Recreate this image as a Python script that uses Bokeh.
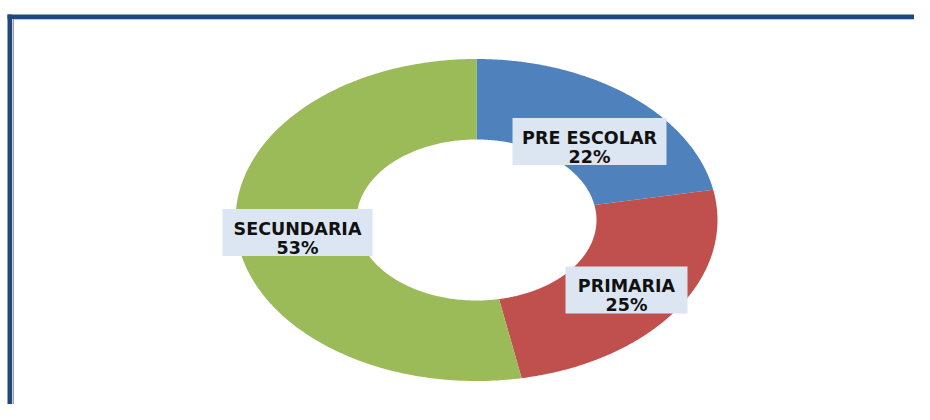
import numpy as np
from bokeh.plotting import figure
from bokeh.models import Range1d, ColumnDataSource
from bokeh.core.properties import value
from bokeh.embed import file_html
from bokeh.resources import INLINE

# ---- data ----
categories = ["PRE ESCOLAR", "PRIMARIA", "SECUNDARIA"]
shares = [22, 25, 53]
colors = ["#4F81BD", "#C0504D", "#9BBB59"]

# ---- layout (pixel coordinates) ----
CX, CY = 476, 219.5
RX_OUT, RY_OUT = 241, 161
RX_IN, RY_IN = 120, 80.5
label_centers = [(589, 141), (626, 289.5), (297, 232)]
label_widths = [154, 122, 150]
label_height = 47

p = figure(width=914, height=404, output_backend="svg", toolbar_location=None,
           x_range=Range1d(0, 914), y_range=Range1d(404, 0),
           min_border=0, outline_line_color=None, background_fill_color="white")
p.axis.visible = False
p.grid.visible = False

# frame
p.quad(left=[7], right=[930], top=[14], bottom=[18.5], fill_color="#1F497D", line_color=None)
p.quad(left=[7], right=[11.5], top=[14], bottom=[420], fill_color="#1F497D", line_color=None)
p.quad(left=[12], right=[13.5], top=[18.5], bottom=[420], fill_color="#A0A0A0", line_color=None)
p.quad(left=[13.5], right=[930], top=[18.5], bottom=[19.5], fill_color="#C8C8C8", line_color=None)

# donut wedges (elliptical)
total = float(sum(shares))
fracs = np.cumsum([0] + shares) / total
xs, ys = [], []
for i in range(len(shares)):
    t = np.linspace(fracs[i], fracs[i + 1], 200) * 2 * np.pi
    xo = CX + RX_OUT * np.sin(t)
    yo = CY - RY_OUT * np.cos(t)
    xi = CX + RX_IN * np.sin(t[::-1])
    yi = CY - RY_IN * np.cos(t[::-1])
    xs.append(list(np.concatenate([xo, xi])))
    ys.append(list(np.concatenate([yo, yi])))
p.patches(xs=xs, ys=ys, fill_color=colors, line_color=None)

# labels
src = ColumnDataSource(dict(
    x=[c[0] for c in label_centers],
    y=[c[1] for c in label_centers],
    w=label_widths,
    name=categories,
    pct=[f"{v}%" for v in shares],
))
p.rect(x="x", y="y", width="w", height=label_height, source=src,
       fill_color="#DCE6F2", line_color=None)
p.text(x="x", y="y", text="name", source=src, y_offset=-4,
       text_font=value("DejaVu Sans"), text_font_style="bold", text_font_size="17.5px",
       text_align="center", text_baseline="alphabetic", text_color="#111111")
p.text(x="x", y="y", text="pct", source=src, y_offset=15,
       text_font=value("DejaVu Sans"), text_font_style="bold", text_font_size="17.5px",
       text_align="center", text_baseline="alphabetic", text_color="#111111")

open("out.html", "w").write(file_html(p, INLINE))
